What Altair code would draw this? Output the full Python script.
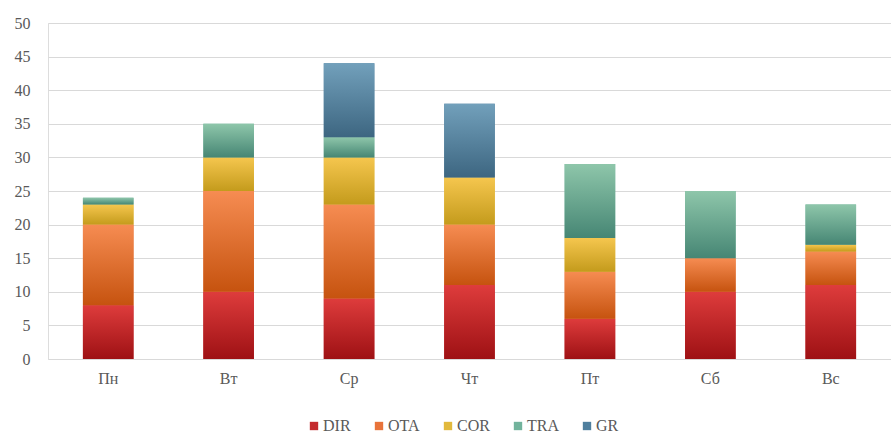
import altair as alt
import pandas as pd

days = ["Пн", "Вт", "Ср", "Чт", "Пт", "Сб", "Вс"]
series = ["DIR", "OTA", "COR", "TRA", "GR"]

dir_vals = [8, 10, 9, 11, 6, 10, 11]
ota_vals = [12, 15, 14, 9, 7, 5, 5]
cor_vals = [3, 5, 7, 7, 5, 0, 1]
tra_vals = [1, 5, 3, 0, 11, 10, 6]
gr_vals = [0, 0, 11, 11, 0, 0, 0]

legend_colors = ["#c42a2e", "#e8733a", "#e2b93c", "#72b39c", "#4f7f9e"]
# (top, bottom) shades for each segment's vertical gradient
gradients = {
    "DIR": ("#de3c3c", "#9e1114"),
    "OTA": ("#f68c52", "#c6530f"),
    "COR": ("#f5c64e", "#c49b1c"),
    "TRA": ("#8ec6aa", "#468674"),
    "GR": ("#72a0bb", "#3d6681"),
}

values = {"DIR": dir_vals, "OTA": ota_vals, "COR": cor_vals, "TRA": tra_vals, "GR": gr_vals}
rows = []
for i, d in enumerate(days):
    for k, s in enumerate(series):
        rows.append({"day": d, "series": s, "order": k, "value": values[s][i]})
df = pd.DataFrame(rows)

font = "Liberation Serif, Times New Roman, DejaVu Serif, serif"
x_enc = alt.X("day:N", sort=days, title=None,
              scale=alt.Scale(paddingInner=0.58, paddingOuter=0.29),
              axis=alt.Axis(labelAngle=0, ticks=False, domain=False, grid=False,
                            labelFont=font, labelFontSize=16, labelColor="#595959",
                            labelPadding=11))
y_enc = alt.Y("v0:Q", scale=alt.Scale(domain=[0, 50], nice=False), title=None,
              axis=alt.Axis(values=list(range(0, 51, 5)), ticks=False, domain=False,
                            grid=True, gridColor="#d9d9d9", gridWidth=1.2,
                            labelOverlap=False,
                            labelFont=font, labelFontSize=16, labelColor="#595959",
                            labelPadding=18))

base = alt.Chart(df).transform_stack(
    stack="value", as_=["v0", "v1"], groupby=["day"],
    sort=[alt.SortField("order", order="ascending")]
)

legend_layer = base.mark_bar().encode(
    x=x_enc,
    y=y_enc,
    y2="v1:Q",
    color=alt.Color("series:N", scale=alt.Scale(domain=series, range=legend_colors),
                    legend=alt.Legend(title=None, orient="none", legendX=258, legendY=395,
                                      direction="horizontal", symbolType="square",
                                      symbolSize=70, symbolStrokeWidth=0,
                                      labelFont=font, labelFontSize=16,
                                      labelColor="#595959", columnPadding=20,
                                      symbolOffset=0, labelOffset=1)),
)

layers = [legend_layer]
for s in series:
    top, bottom = gradients[s]
    fill = alt.Gradient(
        gradient="linear",
        stops=[alt.GradientStop(color=top, offset=0),
               alt.GradientStop(color=bottom, offset=1)],
        x1=0, x2=0, y1=0, y2=1,
    )
    layers.append(
        base.transform_filter(alt.datum.series == s)
        .transform_filter(alt.datum.value > 0)
        .mark_bar(fill=fill)
        .encode(x=x_enc, y=y_enc, y2="v1:Q")
    )

chart = alt.layer(*layers).properties(
    width=843, height=336,
    autosize=alt.AutoSizeParams(type="none"),
    padding={"left": 48, "top": 23, "right": 0, "bottom": 79},
).configure_view(stroke=None).configure(background="white")

chart.save("out.html", embed_options={"renderer": "svg", "actions": False})
